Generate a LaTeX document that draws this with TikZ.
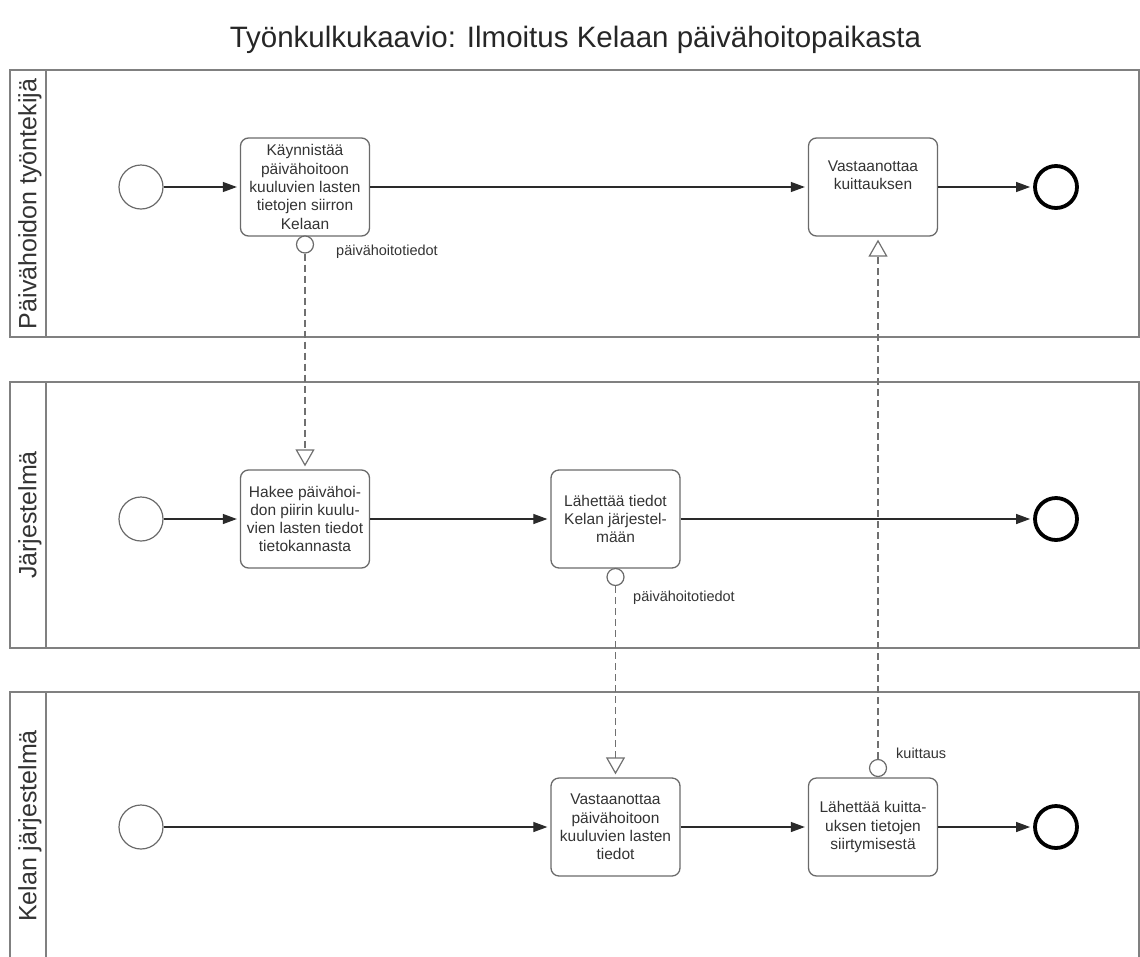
\documentclass[tikz,border=0pt]{standalone}
\usepackage{fontspec}
\setmainfont{Liberation Sans}
\usetikzlibrary{arrows.meta}
\definecolor{poolgray}{HTML}{808080}
\definecolor{taskgray}{HTML}{6A6A6A}
\definecolor{textc}{HTML}{333333}
\definecolor{flowc}{HTML}{2A2A2A}
\definecolor{msgc}{HTML}{707070}
\begin{document}
\begin{tikzpicture}[x=1pt,y=-1pt,
  pool/.style={draw=poolgray, line width=1.4pt},
  task/.style={draw=taskgray, line width=1.3pt, rounded corners=8pt, minimum width=129pt, minimum height=98pt, inner sep=0pt, align=center, font=\fontsize{15.5}{18.3}\selectfont, text=textc},
  startev/.style={circle, draw=taskgray, line width=1.2pt, minimum size=44pt, inner sep=0pt},
  endev/.style={circle, draw=black, line width=3.8pt, minimum size=42pt, inner sep=0pt},
  datapt/.style={circle, draw=taskgray, line width=1.2pt, minimum size=17pt, inner sep=0pt, fill=white},
  flow/.style={draw=flowc, line width=1.2pt, -{Triangle[length=14pt,width=10pt]}, shorten >=3pt},
  msg/.style={draw=msgc, line width=1.2pt, dash pattern=on 7pt off 4pt, -{Triangle[open,length=17pt,width=19pt]}, shorten >=3pt},
  lanelabel/.style={rotate=90, font=\fontsize{25}{28}\selectfont, text=textc, inner sep=0pt},
  dlabel/.style={font=\fontsize{14.5}{17}\selectfont, text=textc, anchor=west, inner sep=0pt},
  titlestyle/.style={font=\fontsize{29.5}{34}\selectfont, text=black!85}
]
\useasboundingbox (0,0) rectangle (1140,956);

% title
\node[titlestyle] (title) at (575.5,40) {Työnkulkukaavio: Ilmoitus Kelaan päivähoitopaikasta};

% pools
\draw[pool] (10,70) rectangle (1139,337);
\draw[pool] (46,70) -- (46,337);
\draw[pool] (10,382) rectangle (1139,648);
\draw[pool] (46,382) -- (46,648);
\draw[pool] (10,962) -- (10,692) -- (1139,692) -- (1139,962);
\draw[pool] (46,692) -- (46,962);

\node[lanelabel] (l1) at (30,204) {Päivähoidon työntekijä};
\node[lanelabel] (l2) at (30,515) {Järjestelmä};
\node[lanelabel] (l3) at (30,826) {Kelan järjestelmä};

% lane 1
\node[startev] (s1) at (141,187) {};
\node[task] (t1) at (305,187) {Käynnistää\\päivähoitoon\\kuuluvien lasten\\tietojen siirron\\Kelaan};
\node[task] (t2) at (873,187) {Vastaanottaa\\kuittauksen\\\strut};
\node[endev] (e1) at (1056,187) {};

% lane 2
\node[startev] (s2) at (141,519) {};
\node[task] (t3) at (305,519) {Hakee päivähoi-\\don piirin kuulu-\\vien lasten tiedot\\tietokannasta};
\node[task] (t4) at (615.5,519) {Lähettää tiedot\\Kelan järjestel-\\mään};
\node[endev] (e2) at (1056,519) {};

% lane 3
\node[startev] (s3) at (141,827) {};
\node[task] (t5) at (615.5,827) {Vastaanottaa\\päivähoitoon\\kuuluvien lasten\\tiedot};
\node[task] (t6) at (873,827) {Lähettää kuitta-\\uksen tietojen\\siirtymisestä};
\node[endev] (e3) at (1056,827) {};

% data points
\node[datapt] (d1) at (305,244.5) {};
\node[datapt] (d2) at (615.5,577) {};
\node[datapt] (d3) at (878,768) {};
\node[dlabel] (d1l) at (336,252) {päivähoitotiedot};
\node[dlabel] (d2l) at (633,598) {päivähoitotiedot};
\node[dlabel] (d3l) at (896,753) {kuittaus};

% sequence flows
\draw[flow] (s1) -- (t1);
\draw[flow] (t1) -- (t2);
\draw[flow] (t2) -- (e1);
\draw[flow] (s2) -- (t3);
\draw[flow] (t3) -- (t4);
\draw[flow] (t4) -- (e2);
\draw[flow] (s3) -- (t5);
\draw[flow] (t5) -- (t6);
\draw[flow] (t6) -- (e3);

% message flows
\draw[msg] (d1.south) -- (t3.north);
\draw[msg] (d2.south) -- (t5.north);
\draw[msg] (d3.north) -- (d3.north |- t2.south);
\end{tikzpicture}
\end{document}
